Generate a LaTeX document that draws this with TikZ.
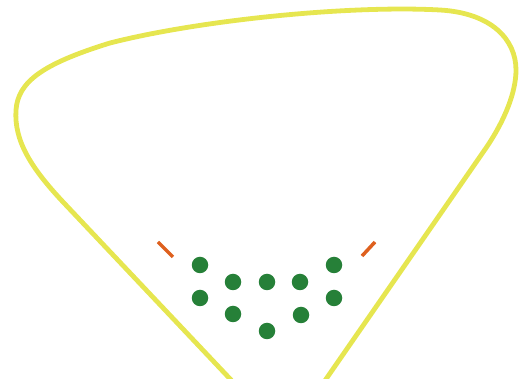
\documentclass[tikz,border=0pt]{standalone}
\definecolor{yel}{RGB}{230,230,80}
\definecolor{grn}{RGB}{38,128,56}
\definecolor{org}{RGB}{222,96,30}
\begin{document}
\begin{tikzpicture}[x=1pt,y=-1pt,
  funnel/.style={draw=yel,line width=4.8pt},
  dot/.style={circle,fill=grn,minimum size=16.5pt,inner sep=0pt},
  tick/.style={draw=org,line width=3.5pt}]
\useasboundingbox (0,0) rectangle (523,379);
\coordinate (s) at (233,382);
\coordinate (e) at (324,382);
\draw[funnel] (s) -- (64,203)
  .. controls (30,167) and (14,140) .. (16,110)
  .. controls (18,82) and (42,64) .. (110,43)
  .. controls (200,20) and (350,5) .. (440,10)
  .. controls (492,13) and (516,40) .. (516,70)
  .. controls (516,92) and (505,120) .. (486,148)
  -- (e);
\node[dot] (d1) at (200,265) {};
\node[dot] (d2) at (233,282) {};
\node[dot] (d3) at (267,282) {};
\node[dot] (d4) at (300,282) {};
\node[dot] (d5) at (334,265) {};
\node[dot] (d6) at (200,298) {};
\node[dot] (d7) at (233,314) {};
\node[dot] (d8) at (267,331) {};
\node[dot] (d9) at (301,315) {};
\node[dot] (d10) at (334,298) {};
\coordinate (la) at (158,242);
\coordinate (lb) at (173,257);
\coordinate (ra) at (375,242);
\coordinate (rb) at (362,256);
\draw[tick] (la) -- (lb);
\draw[tick] (ra) -- (rb);
\end{tikzpicture}
\end{document}
